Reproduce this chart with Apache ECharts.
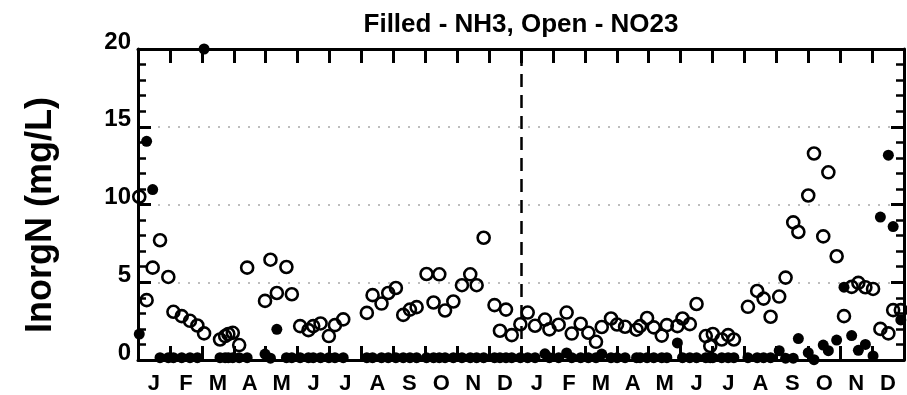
<!DOCTYPE html>
<html>
<head>
<meta charset="utf-8">
<script src="https://cdn.jsdelivr.net/npm/echarts@6/dist/echarts.min.js"></script>
<style>
html,body{margin:0;padding:0;background:#fff;}
#chart{width:907px;height:395px;}
</style>
</head>
<body>
<div id="chart"></div>
<script>
// Month tick labels (two years)
const monthLabels = ['J','F','M','A','M','J','J','A','S','O','N','D','J','F','M','A','M','J','J','A','S','O','N','D'];
const yTicks = [0, 5, 10, 15, 20];

// Sample dates, in months since the start of year 1
const sampleMonth = [
  0.04,0.27,0.46,0.69,0.95,1.11,1.37,1.63,1.86,2.07,2.57,2.73,2.83,2.97,3.17,3.42,3.98,4.15,4.35,4.65,4.82,5.08,5.34,5.49,5.72,5.98,6.17,6.43,
  7.17,7.35,7.63,7.84,8.08,8.31,8.52,8.73,9.04,9.26,9.44,9.62,9.88,10.15,10.41,10.61,10.83,11.17,11.34,11.53,11.71,11.98,
  12.21,12.44,12.75,12.89,13.18,13.43,13.59,13.87,14.11,14.35,14.53,14.82,15.01,15.26,15.62,15.73,15.95,16.16,16.41,16.57,16.9,17.06,17.29,17.5,17.79,17.93,18.01,18.29,18.49,18.67,
  19.11,19.4,19.6,19.82,20.09,20.29,20.53,20.69,21.0,21.18,21.47,21.63,21.89,22.12,22.36,22.57,22.79,23.03,23.26,23.51,23.66,23.9
];

// NO23 (open circles), mg/L
const no23 = [
  10.5,3.85,5.94,7.7,5.34,3.1,2.82,2.52,2.22,1.71,1.32,1.54,1.67,1.75,0.96,5.94,3.8,6.45,4.31,5.98,4.23,2.18,1.92,2.18,2.35,1.54,2.24,2.61,
  3.03,4.17,3.63,4.31,4.63,2.9,3.24,3.4,5.53,3.7,5.51,3.18,3.76,4.81,5.51,4.81,7.86,3.53,1.88,3.24,1.6,2.3,
  3.05,2.2,2.6,1.97,2.27,3.05,1.7,2.33,1.75,1.17,2.12,2.67,2.28,2.14,1.95,2.18,2.7,2.1,1.57,2.24,2.18,2.67,2.31,3.6,1.54,0.9,1.67,1.32,1.6,1.32,
  3.42,4.44,3.95,2.78,4.08,5.3,8.85,8.23,10.58,13.28,7.95,12.07,6.67,2.82,4.7,4.96,4.68,4.57,2.0,1.71,3.21,3.21
];

// NH3 (filled circles), mg/L
const nh3 = [
  1.67,14.06,10.96,0.15,0.15,0.15,0.15,0.15,0.15,20,0.15,0.15,0.15,0.15,0.15,0.15,0.38,0.12,1.97,0.15,0.15,0.15,0.15,0.15,0.15,0.15,0.15,0.15,
  0.15,0.15,0.15,0.15,0.15,0.15,0.15,0.15,0.15,0.15,0.15,0.15,0.15,0.15,0.15,0.15,0.15,0.15,0.15,0.15,0.15,0.15,
  0.15,0.15,0.4,0.15,0.15,0.45,0.15,0.15,0.15,0.15,0.38,0.15,0.15,0.15,0.15,0.15,0.15,0.15,0.15,0.15,1.1,0.15,0.15,0.15,0.15,0.15,0.15,0.15,0.15,0.15,
  0.15,0.15,0.15,0.15,0.6,0.12,0.12,1.38,0.47,0.02,0.96,0.6,1.28,4.68,1.57,0.62,1.0,0.26,9.19,13.17,8.58,2.58
];

const yearBoundary = 12;
const titleText = 'Filled - NH3, Open - NO23';
const yTitle = 'InorgN (mg/L)';

const FONT = "'Liberation Sans', Arial, Helvetica, sans-serif";
const no23Data = sampleMonth.map((m, i) => [m, no23[i]]);
const nh3Data = sampleMonth.map((m, i) => [m, nh3[i]]);
const catData = monthLabels.map((_, i) => String(i));

const chart = echarts.init(document.getElementById('chart'), null, {renderer: 'canvas'});
const axisLine = {show: true, lineStyle: {color: '#000', width: 3}};
const xTick = {show: true, inside: true, interval: 0, length: 14, lineStyle: {color: '#000', width: 3}};
const yTick = {show: true, inside: true, length: 13, lineStyle: {color: '#000', width: 3}};
const yMinor = {show: true, splitNumber: 5, length: 8, lineStyle: {color: '#000', width: 2.5}};

chart.setOption({
  animation: false,
  backgroundColor: '#fff',
  grid: {left: 138, right: 3, top: 49, bottom: 35, containLabel: false},
  graphic: [
    {type: 'text', x: 521, y: 25, style: {text: titleText, align: 'center', verticalAlign: 'middle', font: 'bold 26px ' + FONT, fill: '#000'}},
    {type: 'text', x: 41, y: 215, rotation: Math.PI / 2, style: {text: yTitle, align: 'center', verticalAlign: 'middle', font: 'bold 36px ' + FONT, fill: '#000'}}
  ],
  xAxis: [
    {type: 'value', min: 0, max: 24, show: false},
    {type: 'category', position: 'bottom', data: catData, boundaryGap: true,
     axisLine: axisLine, axisTick: xTick, splitLine: {show: false},
     axisLabel: {show: true, interval: 0, margin: 13, color: '#000', fontFamily: FONT, fontWeight: 'bold', fontSize: 22,
                 formatter: (v, i) => monthLabels[i]}},
    {type: 'category', position: 'top', data: catData, boundaryGap: true,
     axisLine: axisLine, axisTick: xTick, axisLabel: {show: false}, splitLine: {show: false}}
  ],
  yAxis: [
    {type: 'value', position: 'left', min: yTicks[0], max: yTicks[yTicks.length - 1], interval: 5,
     axisLine: axisLine, axisTick: yTick, minorTick: yMinor,
     axisLabel: {margin: 7, color: '#000', fontFamily: FONT, fontWeight: 'bold', fontSize: 24,
                 verticalAlign: 'bottom', lineHeight: 14},
     splitLine: {show: true, lineStyle: {color: '#a8a8a8', width: 1.5, type: [2, 8]}}},
    {type: 'value', position: 'right', min: yTicks[0], max: yTicks[yTicks.length - 1], interval: 5,
     axisLine: axisLine, axisTick: yTick, minorTick: yMinor,
     axisLabel: {show: false}, splitLine: {show: false}}
  ],
  series: [
    {type: 'scatter', name: 'NO23', xAxisIndex: 0, yAxisIndex: 0, data: no23Data, clip: false,
     symbol: 'circle', symbolSize: 12,
     itemStyle: {color: 'rgba(255,255,255,0)', borderColor: '#000', borderWidth: 2.6, opacity: 1},
     emphasis: {disabled: true},
     markLine: {silent: true, symbol: ['none', 'none'], label: {show: false},
                lineStyle: {color: '#000', width: 2.5, type: [13, 8]},
                data: [{xAxis: yearBoundary}]}},
    {type: 'scatter', name: 'NH3', xAxisIndex: 0, yAxisIndex: 0, data: nh3Data, clip: false,
     symbol: 'circle', symbolSize: 11,
     itemStyle: {color: '#000', borderWidth: 0, opacity: 1},
     emphasis: {disabled: true}}
  ]
});
</script>
</body>
</html>
